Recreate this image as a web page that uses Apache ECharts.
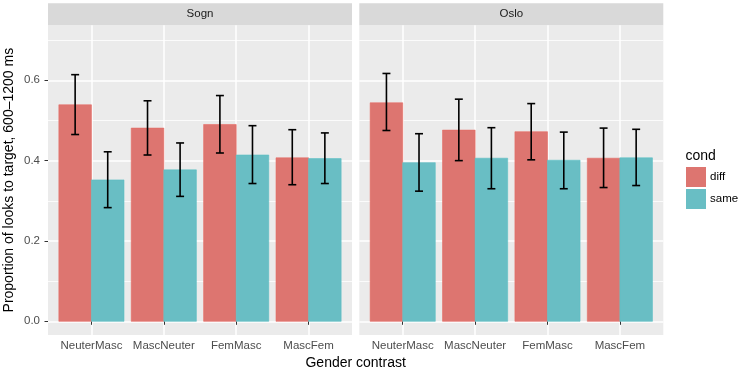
<!DOCTYPE html>
<html>
<head>
<meta charset="utf-8">
<script src="https://cdn.jsdelivr.net/npm/echarts@6/dist/echarts.min.js"></script>
<style>
  html, body { margin: 0; padding: 0; background: #fff; }
  #chart { width: 743px; height: 372px; }
</style>
</head>
<body>
<div id="chart"></div>
<script>
// data
var categories = ['NeuterMasc', 'MascNeuter', 'FemMasc', 'MascFem']
var panels = ['Sogn', 'Oslo']
var conds = ['diff', 'same']
var yTicks = [0.0, 0.2, 0.4, 0.6]
var yMinor = [0.1, 0.3, 0.5, 0.7]

// Sogn
var sognDiff = [0.539, 0.481, 0.490, 0.407]
var sognDiffLo = [0.465, 0.414, 0.419, 0.340]
var sognDiffHi = [0.614, 0.549, 0.562, 0.477]
var sognSame = [0.352, 0.377, 0.414, 0.405]
var sognSameLo = [0.283, 0.311, 0.343, 0.343]
var sognSameHi = [0.422, 0.444, 0.487, 0.469]

// Oslo
var osloDiff = [0.544, 0.476, 0.472, 0.406]
var osloDiffLo = [0.475, 0.400, 0.402, 0.333]
var osloDiffHi = [0.617, 0.553, 0.542, 0.481]
var osloSame = [0.395, 0.406, 0.401, 0.407]
var osloSameLo = [0.324, 0.330, 0.330, 0.338]
var osloSameHi = [0.467, 0.482, 0.471, 0.478]

var fillColor = { diff: '#dd7570', same: '#69bec4' }
var edgeColor = { diff: '#e66b64', same: '#5cc0c4' }
var fontFamily = '"Liberation Sans", Arial, Helvetica, sans-serif'
var tickColor = '#4d4d4d'

var dodge = 0.45   // width of one bar, in category units
var capWidth = 0.11

var panelLeft = [48, 359.3]
var panelTop = 25.3
var panelW = 304
var panelH = 309.7
var yMin = -0.0341
var yMax = 0.7369

var myChart = echarts.init(document.getElementById('chart'))

function barSeries(name, panel, values, side) {
  return {
    name: name,
    type: 'custom',
    xAxisIndex: panel,
    yAxisIndex: panel * 2,
    itemStyle: { color: fillColor[name] },
    data: values.map(function (v, i) { return [i + 1, v] }),
    renderItem: function (params, api) {
      var x = api.value(0)
      var x0 = side === 0 ? x - dodge : x
      var p0 = api.coord([x0, api.value(1)])
      var p1 = api.coord([x0 + dodge, 0])
      return {
        type: 'rect',
        shape: { x: p0[0], y: p0[1], width: p1[0] - p0[0], height: p1[1] - p0[1] },
        style: { fill: fillColor[name], stroke: edgeColor[name], lineWidth: 0.6 }
      }
    },
    z: 3
  }
}

function errSeries(panel, lo, hi, side) {
  return {
    name: 'err',
    type: 'custom',
    xAxisIndex: panel,
    yAxisIndex: panel * 2,
    data: lo.map(function (v, i) { return [i + 1, v, hi[i]] }),
    renderItem: function (params, api) {
      var x = api.value(0) + (side === 0 ? -dodge / 2 : dodge / 2)
      var a = api.coord([x - capWidth / 2, api.value(1)])
      var b = api.coord([x + capWidth / 2, api.value(2)])
      var xm = api.coord([x, 0])[0]
      var st = { stroke: '#000', lineWidth: 1.6 }
      return {
        type: 'group',
        children: [
          { type: 'line', shape: { x1: xm, y1: a[1], x2: xm, y2: b[1] }, style: st },
          { type: 'line', shape: { x1: a[0], y1: a[1], x2: b[0], y2: a[1] }, style: st },
          { type: 'line', shape: { x1: a[0], y1: b[1], x2: b[0], y2: b[1] }, style: st }
        ]
      }
    },
    z: 4
  }
}

var grids = [], xAxes = [], yAxes = [], graphics = []
panels.forEach(function (p, k) {
  grids.push({
    left: panelLeft[k], top: panelTop, width: panelW, height: panelH,
    containLabel: false, outerBoundsMode: 'none',
    show: true, backgroundColor: '#ebebeb', borderWidth: 0
  })
  xAxes.push({
    type: 'value', gridIndex: k, min: 0.4, max: 4.6,
    axisLine: { show: false },
    axisTick: { show: true, customValues: [1, 2, 3, 4], length: 3.5, lineStyle: { color: '#333', width: 1 } },
    axisLabel: {
      customValues: [1, 2, 3, 4], margin: 5, color: tickColor, fontSize: 11.5, fontFamily: fontFamily,
      formatter: function (v) { return categories[Math.round(v) - 1] }
    },
    splitLine: { show: true, lineStyle: { color: '#fff', width: 1.5 } }
  })
  yAxes.push({
    type: 'value', gridIndex: k, min: yMin, max: yMax,
    axisLine: { show: false },
    axisTick: { show: k === 0, customValues: yTicks, length: 3.5, lineStyle: { color: '#333', width: 1 } },
    axisLabel: {
      show: k === 0, customValues: yTicks, margin: 8, color: tickColor, fontSize: 11.5, fontFamily: fontFamily,
      formatter: function (v) { return v.toFixed(1) }
    },
    splitLine: { show: true, lineStyle: { color: '#fff', width: 1.5 } },
    name: k === 0 ? 'Proportion of looks to target, 600\u20131200 ms' : '',
    nameLocation: 'middle', nameGap: 32,
    nameTextStyle: { color: '#000', fontSize: 14, fontFamily: fontFamily }
  })
  yAxes.push({
    type: 'value', gridIndex: k, min: yMin, max: yMax,
    axisLine: { show: false },
    axisTick: { show: false, customValues: yMinor },
    axisLabel: { show: false, customValues: yMinor },
    splitLine: { show: true, lineStyle: { color: '#fff', width: 0.8 } }
  })
  // facet strip
  graphics.push({
    type: 'rect', left: panelLeft[k], top: 3.3,
    shape: { width: panelW, height: panelTop - 3.3 },
    style: { fill: '#d9d9d9' }
  })
  graphics.push({
    type: 'text', x: panelLeft[k] + panelW / 2, y: (3.3 + panelTop) / 2,
    style: { text: p, fill: '#1a1a1a', font: '11.5px ' + fontFamily, align: 'center', verticalAlign: 'middle' }
  })
})

// x axis title and legend title
graphics.push({
  type: 'text', x: (panelLeft[0] + panelLeft[1] + panelW) / 2, y: 363,
  style: { text: 'Gender contrast', fill: '#000', font: '14px ' + fontFamily, align: 'center', verticalAlign: 'middle' }
})
graphics.push({
  type: 'text', x: 685.5, y: 156,
  style: { text: 'cond', fill: '#000', font: '14px ' + fontFamily, align: 'left', verticalAlign: 'middle' }
})

var option = {
  animation: false,
  backgroundColor: '#fff',
  grid: grids,
  xAxis: xAxes,
  yAxis: yAxes,
  legend: {
    data: conds,
    orient: 'vertical',
    left: 686, top: 167,
    icon: 'rect',
    itemWidth: 20, itemHeight: 20, itemGap: 2,
    padding: 0,
    selectedMode: false,
    textStyle: { color: '#000', fontSize: 11.5, fontFamily: fontFamily, padding: [0, 0, 0, -1] }
  },
  graphic: graphics,
  series: [
    barSeries('diff', 0, sognDiff, 0),
    barSeries('same', 0, sognSame, 1),
    barSeries('diff', 1, osloDiff, 0),
    barSeries('same', 1, osloSame, 1),
    errSeries(0, sognDiffLo, sognDiffHi, 0),
    errSeries(0, sognSameLo, sognSameHi, 1),
    errSeries(1, osloDiffLo, osloDiffHi, 0),
    errSeries(1, osloSameLo, osloSameHi, 1)
  ]
}

myChart.setOption(option, true)
</script>
</body>
</html>
